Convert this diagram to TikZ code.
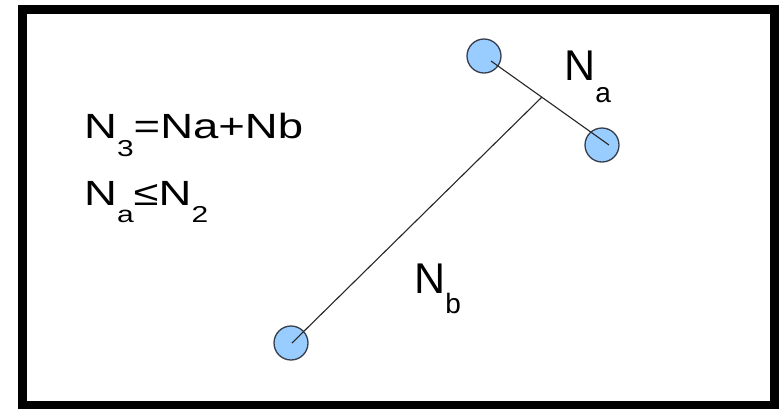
\documentclass[tikz,border=0pt]{standalone}
\usepackage{fontspec}
\setmainfont{Liberation Sans}
\usepackage{graphicx}
\definecolor{ballfill}{RGB}{153,204,255}
\definecolor{ballline}{RGB}{55,62,75}
\begin{document}
\begin{tikzpicture}[x=1pt,y=-1pt,
  ball/.style={circle,draw=ballline,fill=ballfill,line width=1.3pt,minimum size=34pt,inner sep=0pt},
  link/.style={draw=black!85,line width=1.1pt},
  lbl/.style={anchor=base west,inner sep=0pt,text=black}]
\useasboundingbox (0,0) rectangle (781,408);
\fill[white] (0,0) rectangle (781,408);
\draw[line width=9pt] (22,9) rectangle (774,405);
% balls
\node[ball] (A) at (484,56) {};
\node[ball] (B) at (602,145) {};
\node[ball] (C) at (291,343) {};
% connectors
\coordinate (a1) at (491,61);
\coordinate (b1) at (609,145);
\coordinate (j) at (542,97);
\coordinate (c1) at (292,343);
\draw[link] (a1) -- (b1);
\draw[link] (j) -- (c1);
% labels
\node[lbl] (na) at (564,80) {\fontsize{43}{43}\selectfont N\raisebox{-22pt}{\fontsize{28}{28}\selectfont a}};
\node[lbl] (nb) at (414,293) {\fontsize{43}{43}\selectfont N\raisebox{-20pt}{\fontsize{28}{28}\selectfont b}};
\node[lbl] (f1) at (84,138) {\scalebox{1.3}[1]{\fontsize{35}{35}\selectfont N\raisebox{-18pt}{\fontsize{23}{23}\selectfont 3}=Na+Nb}};
\node[lbl] (f2) at (84,205) {\scalebox{1.3}[1]{\fontsize{35}{35}\selectfont N\raisebox{-17pt}{\fontsize{23}{23}\selectfont a}≤N\raisebox{-17pt}{\fontsize{23}{23}\selectfont 2}}};
\end{tikzpicture}
\end{document}
